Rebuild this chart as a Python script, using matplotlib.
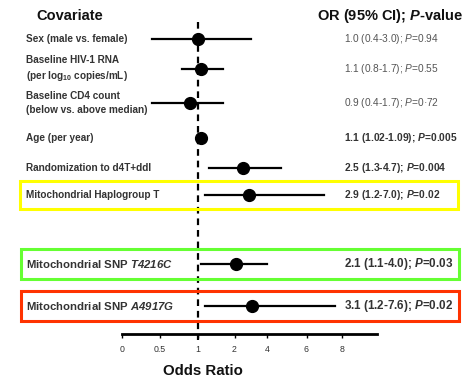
import numpy as np
import matplotlib.pyplot as plt
from matplotlib.patches import Rectangle

plt.rcParams['font.family'] = 'Liberation Sans'
plt.rcParams['mathtext.fontset'] = 'custom'
plt.rcParams['mathtext.rm'] = 'Liberation Sans'
plt.rcParams['mathtext.it'] = 'Liberation Sans:italic'
plt.rcParams['mathtext.bf'] = 'Liberation Sans:bold'
plt.rcParams['mathtext.bfit'] = 'Liberation Sans:italic:bold'

# data
labels = ['Sex (male vs. female)',
          'Baseline HIV-1 RNA\n(per log$_{\\mathbf{10}}$ copies/mL)',
          'Baseline CD4 count\n(below vs. above median)',
          'Age (per year)',
          'Randomization to d4T+ddI',
          'Mitochondrial Haplogroup T',
          'Mitochondrial SNP $\\mathbfit{T4216C}$',
          'Mitochondrial SNP $\\mathbfit{A4917G}$']
odds = [1.0, 1.1, 0.9, 1.1, 2.5, 2.9, 2.1, 3.1]
ci_low = [0.4, 0.8, 0.4, 1.02, 1.3, 1.2, 1.1, 1.2]
ci_high = [3.0, 1.7, 1.7, 1.09, 4.7, 7.0, 4.0, 7.6]
or_text = ['1.0 (0.4-3.0); $\\mathit{P}$=0.94',
           '1.1 (0.8-1.7); $\\mathit{P}$=0.55',
           '0.9 (0.4-1.7); $\\mathit{P}$=0\u00b772',
           '1.1 (1.02-1.09); $\\mathbfit{P}$=0.005',
           '2.5 (1.3-4.7); $\\mathbfit{P}$=0.004',
           '2.9 (1.2-7.0); $\\mathbfit{P}$=0.02',
           '2.1 (1.1-4.0); $\\mathbfit{P}$=0.03',
           '3.1 (1.2-7.6); $\\mathbfit{P}$=0.02']
tick_vals = [0, 0.5, 1, 2, 4, 6, 8]
tick_labels = ['0', '0.5', '1', '2', '4', '6', '8']

# layout (pixels)
W, H = 473, 378
row_y = [39, 69, 103, 138, 168, 195, 264, 306]
# the chart's odd axis: piecewise spacing between ticks
scale_vals = [0, 0.5, 1, 2, 4, 6, 8, 10]
scale_pos = [122, 159.5, 197.5, 234.5, 267, 306.5, 342, 377]

def fwd(x):
    return np.interp(x, scale_vals, scale_pos)

def inv(p):
    return np.interp(p, scale_pos, scale_vals)

fig = plt.figure(figsize=(W / 100, H / 100), dpi=100)
ax = fig.add_axes([122 / W, (H - 334) / H, (377 - 122) / W, 334 / H])
ax.set_xscale('function', functions=(fwd, inv))
ax.set_xlim(0, 10)
ax.set_ylim(334, 0)
for s in ['top', 'right', 'left']:
    ax.spines[s].set_visible(False)
ax.spines['bottom'].set_linewidth(2)
ax.set_yticks([])
ax.set_xticks(tick_vals)
ax.set_xticklabels(tick_labels, fontsize=6.3, color='#333333')
ax.xaxis.set_minor_locator(plt.NullLocator())
ax.tick_params(axis='x', direction='out', length=3, width=1, pad=5)
ax.patch.set_alpha(0)

ax.plot([1, 1], [22, 340], color='black', lw=1.6, ls=(0, (3, 2.2)), clip_on=False)

for i in range(len(odds)):
    ax.plot([ci_low[i], ci_high[i]], [row_y[i], row_y[i]], color='black', lw=1.6, clip_on=False)
    ax.plot(odds[i], row_y[i], 'o', color='black', ms=8.5, clip_on=False)

def ftext(x, y, s, **kw):
    fig.text(x / W, 1 - y / H, s, **kw)

ftext(36, 16, 'Covariate', fontsize=10.5, fontweight='bold', va='center', color='#111111')
ftext(317, 16, 'OR (95% CI); $\\mathbfit{P}$-value', fontsize=10.5, fontweight='bold',
      va='center', color='#111111')
ftext(203, 371, 'Odds Ratio', fontsize=10.8, fontweight='bold', ha='center', va='center',
      color='#111111')

for i in range(len(labels)):
    big = i >= 6
    ftext(26, row_y[i], labels[i], fontsize=8.2 if big else 7.2, fontweight='bold',
          va='center', color='#333333', linespacing=1.45)
    if i < 3:
        ftext(344, row_y[i], or_text[i], fontsize=7.3, va='center', color='#555555')
    else:
        ftext(344, row_y[i], or_text[i], fontsize=8.4 if big else 7.4, fontweight='bold',
              va='center', color='#333333')

# highlight boxes
boxes = [(20, 181, 438, 28, '#FFFF00'),
         (21, 249, 438, 30, '#66FF33'),
         (21, 291, 438, 30, '#FF3300')]
for x, y, w, h, c in boxes:
    fig.patches.append(Rectangle((x / W, 1 - (y + h) / H), w / W, h / H, fill=False,
                                 edgecolor=c, lw=2.2, transform=fig.transFigure))

fig.savefig('out.png', dpi=100)
